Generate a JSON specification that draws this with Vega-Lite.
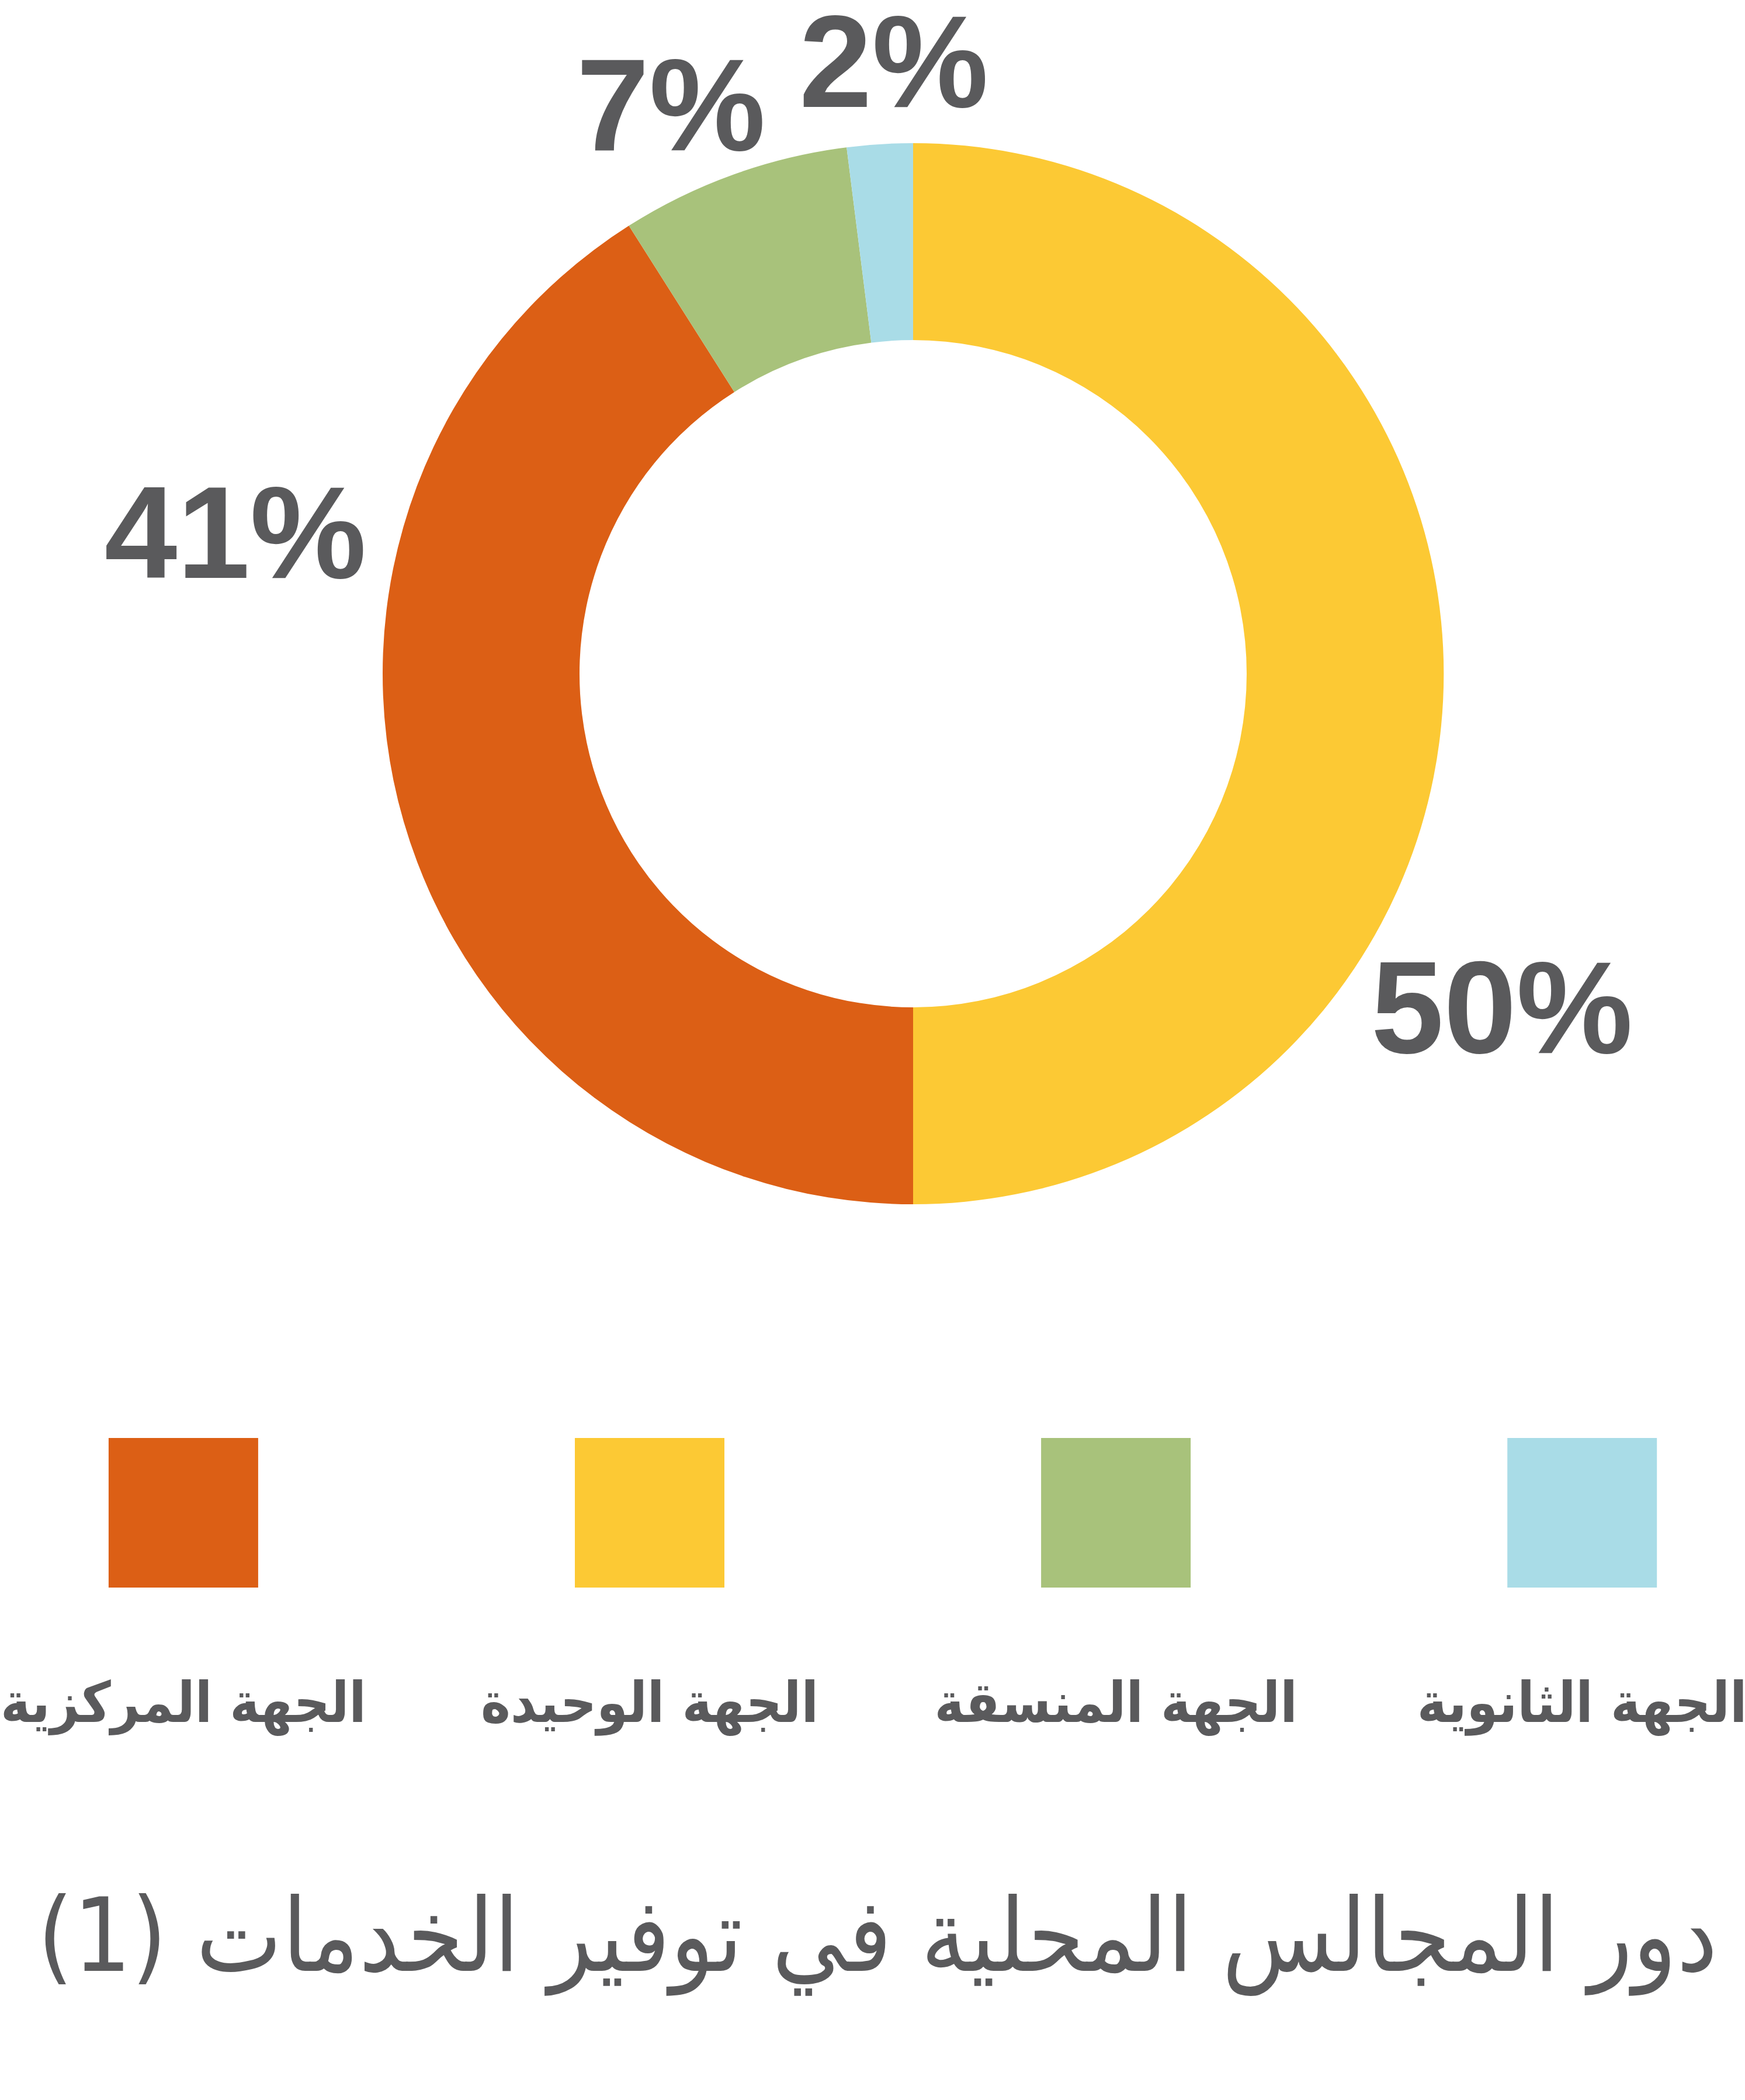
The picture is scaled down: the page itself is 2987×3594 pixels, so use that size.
{
  "$schema": "https://vega.github.io/schema/vega-lite/v6.json",
  "padding": 0,
  "autosize": {"type": "pad"},
  "bounds": "flush",
  "background": "white",
  "spacing": 0,
  "config": {"view": {"stroke": null}},
  "data": {
    "values": [
      {"name": "الجهة الوحيدة", "value": 50, "label": "50%"},
      {"name": "الجهة المركزية", "value": 41, "label": "41%"},
      {"name": "الجهة المنسقة", "value": 7, "label": "7%"},
      {"name": "الجهة الثانوية", "value": 2, "label": "2%"}
    ]
  },
  "hconcat": [
    {
      "width": 133,
      "height": 2306,
      "data": {"values": [{"spacer": 1}]},
      "mark": {"type": "point", "opacity": 0},
      "encoding": {}
    },
    {
      "spacing": 0,
      "bounds": "flush",
      "vconcat": [
        {
          "width": 2854,
          "height": 2306,
          "layer": [
            {
              "mark": {"type": "arc", "innerRadius": 571, "outerRadius": 908},
              "encoding": {
                "theta": {"field": "value", "type": "quantitative", "stack": true},
                "order": {"field": "value", "sort": "descending"},
                "color": {
                  "field": "name",
                  "type": "nominal",
                  "scale": {
                    "domain": ["الجهة المركزية", "الجهة الوحيدة", "الجهة المنسقة", "الجهة الثانوية"],
                    "range": ["#DC5F15", "#FCC934", "#A8C27B", "#A9DCE7"]
                  },
                  "legend": null
                }
              }
            },
            {
              "mark": {"type": "text", "radius": 976, "thetaOffset": 0.6386, "font": "Liberation Sans", "fontWeight": "bold", "fill": "#5A5A5C", "align": "left", "baseline": "middle"},
              "encoding": {
                "theta": {"field": "value", "type": "quantitative", "stack": true},
                "order": {"field": "value", "sort": "descending"},
                "detail": {"field": "name", "type": "nominal"},
                "text": {"condition": {"test": "datum.value == 50", "field": "label", "type": "nominal"}, "value": ""},
                "size": {"condition": {"test": "datum.value == 50", "value": 224}, "value": 0}
              }
            },
            {
              "mark": {"type": "text", "radius": 964, "thetaOffset": 0.5246, "font": "Liberation Sans", "fontWeight": "bold", "fill": "#5A5A5C", "align": "right", "baseline": "middle"},
              "encoding": {
                "theta": {"field": "value", "type": "quantitative", "stack": true},
                "order": {"field": "value", "sort": "descending"},
                "detail": {"field": "name", "type": "nominal"},
                "text": {"condition": {"test": "datum.value == 41", "field": "label", "type": "nominal"}, "value": ""},
                "size": {"condition": {"test": "datum.value == 41", "value": 224}, "value": 0}
              }
            },
            {
              "mark": {"type": "text", "radius": 1048, "thetaOffset": -0.061, "font": "Liberation Sans", "fontWeight": "bold", "fill": "#5A5A5C", "align": "center", "baseline": "middle"},
              "encoding": {
                "theta": {"field": "value", "type": "quantitative", "stack": true},
                "order": {"field": "value", "sort": "descending"},
                "detail": {"field": "name", "type": "nominal"},
                "text": {"condition": {"test": "datum.value == 7", "field": "label", "type": "nominal"}, "value": ""},
                "size": {"condition": {"test": "datum.value == 7", "value": 224}, "value": 0}
              }
            },
            {
              "mark": {"type": "text", "radius": 1038, "thetaOffset": 0.031, "font": "Liberation Sans", "fontWeight": "bold", "fill": "#5A5A5C", "align": "center", "baseline": "middle"},
              "encoding": {
                "theta": {"field": "value", "type": "quantitative", "stack": true},
                "order": {"field": "value", "sort": "descending"},
                "detail": {"field": "name", "type": "nominal"},
                "text": {"condition": {"test": "datum.value == 2", "field": "label", "type": "nominal"}, "value": ""},
                "size": {"condition": {"test": "datum.value == 2", "value": 224}, "value": 0}
              }
            }
          ]
        },
        {
          "width": 2854,
          "height": 566,
          "mark": {"type": "square", "size": 65536, "filled": true, "opacity": 1},
          "encoding": {
            "x": {
              "field": "name",
              "type": "nominal",
              "scale": {"type": "point", "domain": ["الجهة المركزية", "الجهة الوحيدة", "الجهة المنسقة", "الجهة الثانوية"], "padding": 0.288, "align": 0.387},
              "axis": null
            },
            "color": {
              "field": "name",
              "type": "nominal",
              "scale": {
                "domain": ["الجهة المركزية", "الجهة الوحيدة", "الجهة المنسقة", "الجهة الثانوية"],
                "range": ["#DC5F15", "#FCC934", "#A8C27B", "#A9DCE7"]
              },
              "legend": null
            }
          }
        },
        {
          "width": 2854,
          "height": 150,
          "mark": {"type": "text", "font": "DejaVu Sans Condensed", "fontWeight": "bold", "fontSize": 96, "fill": "#5A5A5C", "align": "center", "baseline": "alphabetic"},
          "encoding": {
            "x": {
              "field": "name",
              "type": "nominal",
              "scale": {"type": "point", "domain": ["الجهة المركزية", "الجهة الوحيدة", "الجهة المنسقة", "الجهة الثانوية"], "padding": 0.288, "align": 0.387},
              "axis": null
            },
            "text": {"field": "name", "type": "nominal"}
          }
        },
        {
          "width": 2732,
          "height": 427,
          "data": {"values": [{"title": "دور المجالس المحلية في توفير الخدمات (1)‏"}]},
          "mark": {"type": "text", "font": "DejaVu Sans Condensed", "fontSize": 174, "fill": "#5A5A5C", "align": "center", "baseline": "top"},
          "encoding": {
            "text": {"field": "title", "type": "nominal"}
          }
        }
      ]
    }
  ]
}
